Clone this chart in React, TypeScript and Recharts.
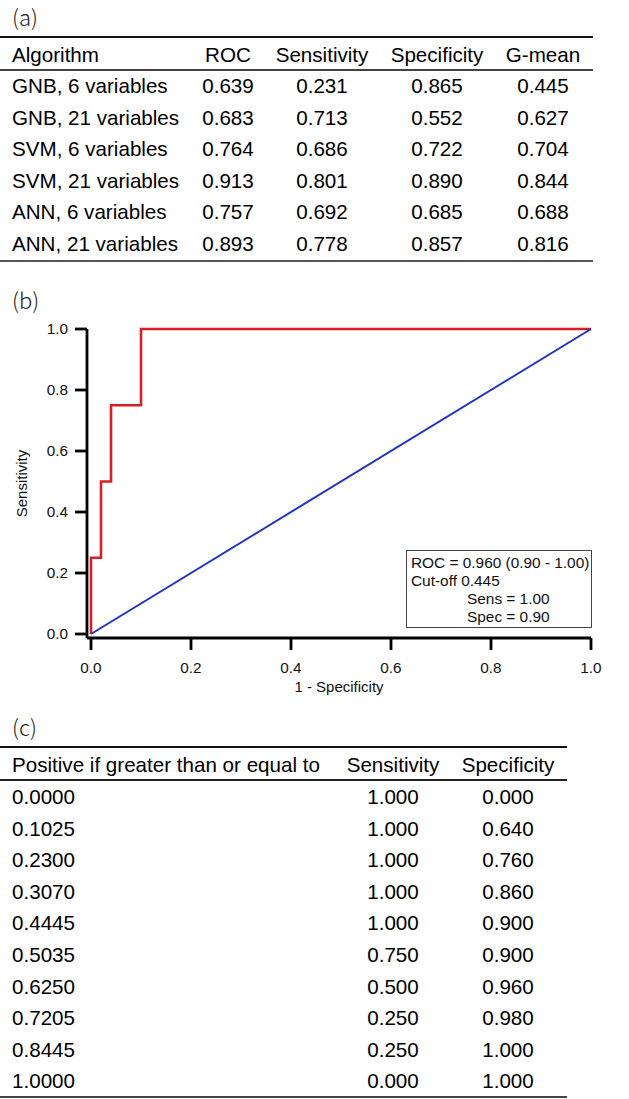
import { Label, Line, LineChart, XAxis, YAxis } from "recharts";

const FONT = "'Liberation Sans', Arial, sans-serif";
const RED = "#d61f26";
const BLUE = "#2035c2";

// (a) model comparison
const algorithms = [
  "GNB, 6 variables",
  "GNB, 21 variables",
  "SVM, 6 variables",
  "SVM, 21 variables",
  "ANN, 6 variables",
  "ANN, 21 variables",
];
const rocAuc = [0.639, 0.683, 0.764, 0.913, 0.757, 0.893];
const algSensitivity = [0.231, 0.713, 0.686, 0.801, 0.692, 0.778];
const algSpecificity = [0.865, 0.552, 0.722, 0.89, 0.685, 0.857];
const gMean = [0.445, 0.627, 0.704, 0.844, 0.688, 0.816];

// (c) cut-off table, also the source of the ROC curve in (b)
const cutoffs = [0, 0.1025, 0.23, 0.307, 0.4445, 0.5035, 0.625, 0.7205, 0.8445, 1];
const cutSensitivity = [1, 1, 1, 1, 1, 0.75, 0.5, 0.25, 0.25, 0];
const cutSpecificity = [0, 0.64, 0.76, 0.86, 0.9, 0.9, 0.96, 0.98, 1, 1];

const axisTicks = [0, 0.2, 0.4, 0.6, 0.8, 1];
const summaryLines = ["ROC = 0.960 (0.90 - 1.00)", "Cut-off 0.445"];
const summaryIndented = ["Sens = 1.00", "Spec = 0.90"];

const rocPoints = cutoffs
  .map((_, i) => ({ fpr: 1 - cutSpecificity[i], sens: cutSensitivity[i] }))
  .reverse();
const chanceLine = [
  { fpr: 0, chance: 0 },
  { fpr: 1, chance: 1 },
];

function Rule({ y, width, h, color }: { y: number; width: number; h: number; color: string }) {
  return (
    <div
      style={{
        position: "absolute",
        left: 0,
        top: y - h / 2,
        width,
        height: h,
        background: color,
      }}
    />
  );
}

function Txt({
  x,
  y,
  children,
  align = "center",
}: {
  x: number;
  y: number;
  children: React.ReactNode;
  align?: "left" | "center";
}) {
  return (
    <div
      style={{
        position: "absolute",
        top: y - 15,
        height: 30,
        lineHeight: "30px",
        left: align === "left" ? x : x - 80,
        width: align === "left" ? 340 : 160,
        textAlign: align,
        whiteSpace: "nowrap",
      }}
    >
      {children}
    </div>
  );
}

function PanelTag({ y, text }: { y: number; text: string }) {
  return (
    <div
      style={{
        position: "absolute",
        left: 12,
        top: y - 16,
        lineHeight: "32px",
        fontSize: 22,
        fontFamily: "'Noto Sans CJK JP', sans-serif",
        fontWeight: 300,
        color: "#222",
      }}
    >
      {text}
    </div>
  );
}

const ROW_H = 31.6;
const tableACols = [228, 322, 437, 543];
const tableCCols = [393, 508];
const tickStyle = { fontSize: 15.3, fill: "#111", fontFamily: FONT };

export default function App() {
  return (
    <div
      style={{
        position: "absolute",
        left: 0,
        top: 0,
        width: 629,
        height: 1099,
        background: "#fff",
        fontFamily: FONT,
        fontSize: 20.6,
        color: "#000",
        overflow: "hidden",
      }}
    >
      {/* (a) */}
      <PanelTag y={16} text="(a)" />
      <Rule y={37} width={593} h={2.5} color="#111" />
      <Txt x={12} y={55} align="left">Algorithm</Txt>
      {["ROC", "Sensitivity", "Specificity", "G-mean"].map((h, i) => (
        <Txt key={h} x={tableACols[i]} y={55}>
          {h}
        </Txt>
      ))}
      <Rule y={70} width={593} h={1.8} color="#444" />
      {algorithms.map((name, r) => {
        const y = 86 + r * ROW_H;
        const vals = [rocAuc[r], algSensitivity[r], algSpecificity[r], gMean[r]];
        return (
          <div key={name}>
            <Txt x={12} y={y} align="left">
              {name}
            </Txt>
            {vals.map((v, i) => (
              <Txt key={i} x={tableACols[i]} y={y}>
                {v.toFixed(3)}
              </Txt>
            ))}
          </div>
        );
      })}
      <Rule y={261} width={593} h={1.8} color="#555" />

      {/* (b) */}
      <PanelTag y={299} text="(b)" />
      <div style={{ position: "absolute", left: 0, top: 300 }}>
        <LineChart
          width={629}
          height={420}
          data={rocPoints}
          margin={{ top: 29, right: 38, left: 0, bottom: 22 }}
        >
          <XAxis
            dataKey="fpr"
            type="number"
            domain={[0, 1]}
            ticks={axisTicks}
            tickFormatter={(v: number) => v.toFixed(1)}
            padding={{ left: 4, right: 0 }}
            height={60}
            tickSize={12}
            tickMargin={12}
            axisLine={{ stroke: "#000", strokeWidth: 2.8 }}
            tickLine={{ stroke: "#000", strokeWidth: 2.8 }}
            tick={tickStyle}
          >
            <Label
              value="1 - Specificity"
              position="insideBottom"
              offset={6}
              style={{ fontSize: 15, fill: "#111", fontFamily: FONT }}
            />
          </XAxis>
          <YAxis
            type="number"
            domain={[0, 1]}
            ticks={axisTicks}
            tickFormatter={(v: number) => v.toFixed(1)}
            padding={{ top: 0, bottom: 4 }}
            width={87}
            tickSize={12}
            tickMargin={7}
            axisLine={{ stroke: "#000", strokeWidth: 2.8 }}
            tickLine={{ stroke: "#000", strokeWidth: 2.8 }}
            tick={tickStyle}
          >
            <Label
              value="Sensitivity"
              angle={-90}
              position="insideLeft"
              offset={22}
              style={{ fontSize: 15, fill: "#111", fontFamily: FONT, textAnchor: "middle" }}
            />
          </YAxis>
          <Line
            type="stepBefore"
            dataKey="sens"
            stroke={RED}
            strokeWidth={2.6}
            dot={false}
            isAnimationActive={false}
          />
          <Line
            data={chanceLine}
            type="linear"
            dataKey="chance"
            stroke={BLUE}
            strokeWidth={2}
            dot={false}
            isAnimationActive={false}
          />
        </LineChart>
      </div>
      <div
        style={{
          position: "absolute",
          left: 406,
          top: 550,
          width: 186,
          height: 78,
          boxSizing: "border-box",
          border: "1px solid #444",
          padding: "3px 0 0 4px",
          fontSize: 15.4,
          lineHeight: "18px",
          color: "#111",
          whiteSpace: "nowrap",
        }}
      >
        {summaryLines.map((t) => (
          <div key={t}>{t}</div>
        ))}
        {summaryIndented.map((t) => (
          <div key={t} style={{ marginLeft: 56 }}>
            {t}
          </div>
        ))}
      </div>

      {/* (c) */}
      <PanelTag y={726} text="(c)" />
      <Rule y={747} width={567} h={2.5} color="#111" />
      <Txt x={12} y={765} align="left">Positive if greater than or equal to</Txt>
      {["Sensitivity", "Specificity"].map((h, i) => (
        <Txt key={h} x={tableCCols[i]} y={765}>
          {h}
        </Txt>
      ))}
      <Rule y={780} width={567} h={2.2} color="#222" />
      {cutoffs.map((c, r) => {
        const y = 797 + r * ROW_H;
        return (
          <div key={r}>
            <Txt x={12} y={y} align="left">
              {c.toFixed(4)}
            </Txt>
            <Txt x={tableCCols[0]} y={y}>
              {cutSensitivity[r].toFixed(3)}
            </Txt>
            <Txt x={tableCCols[1]} y={y}>
              {cutSpecificity[r].toFixed(3)}
            </Txt>
          </div>
        );
      })}
      <Rule y={1097} width={567} h={1.6} color="#444" />
    </div>
  );
}
